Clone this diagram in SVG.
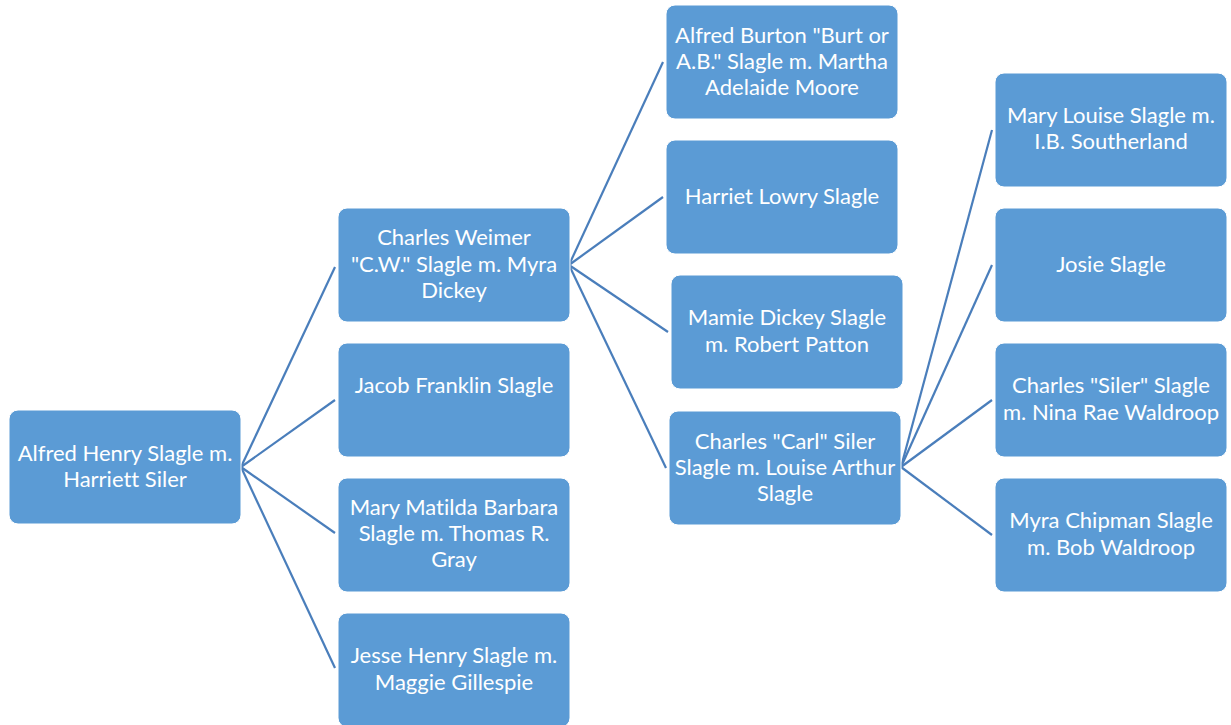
<svg xmlns="http://www.w3.org/2000/svg" width="1231" height="725" viewBox="0 0 1231 725">
<style>
.box{fill:#5B9BD5;stroke:#FFFFFF;stroke-width:1}
.t{font-family:Lato,"Liberation Sans",sans-serif;font-size:22px;fill:#FFFFFF;text-anchor:middle;font-variant-ligatures:none}
.c{stroke:#4A7EBB;stroke-width:2.2;fill:none}
</style>
<g id="connectors">
<line class="c" x1="241" y1="467" x2="335" y2="267"/>
<line class="c" x1="241" y1="467" x2="335" y2="400"/>
<line class="c" x1="241" y1="467" x2="335" y2="533"/>
<line class="c" x1="241" y1="467" x2="335" y2="668"/>
<line class="c" x1="569" y1="265" x2="663" y2="62"/>
<line class="c" x1="569" y1="265" x2="663" y2="197"/>
<line class="c" x1="569" y1="265" x2="668" y2="332"/>
<line class="c" x1="569" y1="265" x2="666" y2="468"/>
<line class="c" x1="901" y1="467" x2="992" y2="130"/>
<line class="c" x1="901" y1="467" x2="992" y2="265"/>
<line class="c" x1="901" y1="467" x2="992" y2="400"/>
<line class="c" x1="901" y1="467" x2="992" y2="535"/>
</g>
<g id="n-alfred-henry">
<rect class="box" x="9" y="410" width="232" height="114" rx="9"/>
<text class="t" x="125" y="461">Alfred Henry Slagle m.</text>
<text class="t" x="125" y="487">Harriett Siler</text>
</g>
<g id="n-charles-weimer">
<rect class="box" x="338" y="208" width="232" height="114" rx="9"/>
<text class="t" x="454" y="245">Charles Weimer</text>
<text class="t" x="454" y="272">"C.W." Slagle m. Myra</text>
<text class="t" x="454" y="298">Dickey</text>
</g>
<g id="n-jacob">
<rect class="box" x="338" y="343" width="232" height="114" rx="9"/>
<text class="t" x="454" y="393">Jacob Franklin Slagle</text>
</g>
<g id="n-mary-matilda">
<rect class="box" x="338" y="478" width="232" height="114" rx="9"/>
<text class="t" x="454" y="515">Mary Matilda Barbara</text>
<text class="t" x="454" y="541">Slagle m. Thomas R.</text>
<text class="t" x="454" y="567">Gray</text>
</g>
<g id="n-jesse">
<rect class="box" x="338" y="613" width="232" height="114" rx="9"/>
<text class="t" x="454" y="663">Jesse Henry Slagle m.</text>
<text class="t" x="454" y="690">Maggie Gillespie</text>
</g>
<g id="n-alfred-burton">
<rect class="box" x="666" y="5" width="232" height="114" rx="9"/>
<text class="t" x="782" y="43">Alfred Burton "Burt or</text>
<text class="t" x="782" y="69">A.B." Slagle m. Martha</text>
<text class="t" x="782" y="95">Adelaide Moore</text>
</g>
<g id="n-harriet">
<rect class="box" x="666" y="140" width="232" height="114" rx="9"/>
<text class="t" x="782" y="204">Harriet Lowry Slagle</text>
</g>
<g id="n-mamie">
<rect class="box" x="671" y="275" width="232" height="114" rx="9"/>
<text class="t" x="787" y="325">Mamie Dickey Slagle</text>
<text class="t" x="787" y="352">m. Robert Patton</text>
</g>
<g id="n-charles-carl">
<rect class="box" x="669" y="411" width="232" height="114" rx="9"/>
<text class="t" x="785" y="449">Charles "Carl" Siler</text>
<text class="t" x="785" y="475">Slagle m. Louise Arthur</text>
<text class="t" x="785" y="501">Slagle</text>
</g>
<g id="n-mary-louise">
<rect class="box" x="995" y="73" width="232" height="114" rx="9"/>
<text class="t" x="1111" y="123">Mary Louise Slagle m.</text>
<text class="t" x="1111" y="149">I.B. Southerland</text>
</g>
<g id="n-josie">
<rect class="box" x="995" y="208" width="232" height="114" rx="9"/>
<text class="t" x="1111" y="272">Josie Slagle</text>
</g>
<g id="n-charles-siler">
<rect class="box" x="995" y="343" width="232" height="114" rx="9"/>
<text class="t" x="1111" y="393">Charles "Siler" Slagle</text>
<text class="t" x="1111" y="420">m. Nina Rae Waldroop</text>
</g>
<g id="n-myra">
<rect class="box" x="995" y="478" width="232" height="114" rx="9"/>
<text class="t" x="1111" y="528">Myra Chipman Slagle</text>
<text class="t" x="1111" y="555">m. Bob Waldroop</text>
</g>
</svg>
